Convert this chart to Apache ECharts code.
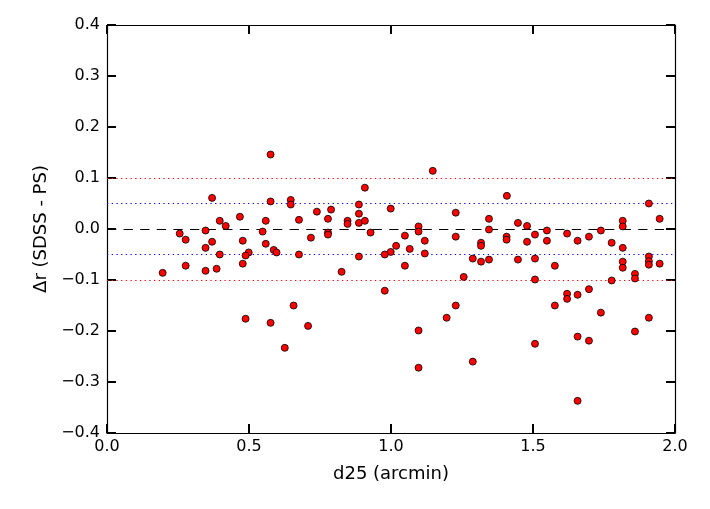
<!DOCTYPE html>
<html>
<head>
<meta charset="utf-8">
<script src="https://cdn.jsdelivr.net/npm/echarts@6/dist/echarts.min.js"></script>
<style>
  html, body { margin: 0; padding: 0; background: #fff; }
  .chart { width: 710px; height: 509px; }
</style>
</head>
<body>
<div class="chart"></div>
<script>
// data
var d25 = [
  0.576, 0.370, 0.576, 0.647, 0.647, 0.397, 0.468, 0.559, 0.676, 0.418, 0.347, 0.548, 0.256, 0.277, 0.370, 0.478, 0.559,
  0.347, 0.587, 0.597, 0.499, 0.488, 0.397, 0.676, 0.478, 0.277, 0.386, 0.347, 0.196, 0.657, 0.488, 0.576, 0.626,
  1.147, 0.908, 0.887, 0.739, 0.789, 0.778, 0.847, 0.847, 0.887, 0.887, 0.908, 0.999, 1.228, 1.345, 1.097, 1.097,
  1.345, 0.928, 0.718, 0.778, 0.778, 1.049, 1.228, 1.119, 1.018, 1.317, 1.317, 1.066, 0.999, 0.978, 0.887, 1.119,
  1.288, 1.317, 1.345, 1.049, 0.826, 1.256, 0.978, 1.228, 0.708, 1.196, 1.097, 1.288, 1.097,
  1.408, 1.908, 1.447, 1.479, 1.946, 1.816, 1.816, 1.407, 1.407, 1.507, 1.549, 1.479, 1.549, 1.620, 1.657, 1.697,
  1.739, 1.777, 1.816, 1.447, 1.507, 1.577, 1.816, 1.816, 1.908, 1.908, 1.908, 1.946, 1.859, 1.859, 1.507, 1.777,
  1.620, 1.620, 1.657, 1.697, 1.577, 1.739, 1.908, 1.859, 1.657, 1.697, 1.507, 1.657
];
var deltaR = [
  0.146, 0.061, 0.054, 0.057, 0.048, 0.016, 0.024, 0.016, 0.018, 0.006, -0.003, -0.005, -0.009, -0.021, -0.025, -0.023, -0.029,
  -0.037, -0.041, -0.046, -0.046, -0.052, -0.050, -0.050, -0.068, -0.072, -0.078, -0.082, -0.086, -0.150, -0.176, -0.184, -0.233,
  0.114, 0.081, 0.048, 0.034, 0.038, 0.020, 0.016, 0.010, 0.030, 0.012, 0.016, 0.040, 0.032, 0.020, 0.005, -0.005,
  -0.001, -0.007, -0.017, -0.007, -0.011, -0.013, -0.015, -0.023, -0.033, -0.027, -0.033, -0.039, -0.045, -0.050, -0.054, -0.048,
  -0.058, -0.064, -0.060, -0.072, -0.084, -0.094, -0.121, -0.150, -0.190, -0.174, -0.199, -0.260, -0.272,
  0.065, 0.050, 0.012, 0.006, 0.020, 0.016, 0.005, -0.015, -0.021, -0.011, -0.003, -0.025, -0.023, -0.009, -0.023, -0.015,
  -0.003, -0.027, -0.037, -0.060, -0.058, -0.072, -0.064, -0.076, -0.054, -0.063, -0.070, -0.068, -0.088, -0.097, -0.099, -0.101,
  -0.127, -0.137, -0.129, -0.118, -0.150, -0.164, -0.174, -0.201, -0.211, -0.219, -0.225, -0.337
];
var xTicks = [0.0, 0.5, 1.0, 1.5, 2.0];
var yTicks = [-0.4, -0.3, -0.2, -0.1, 0.0, 0.1, 0.2, 0.3, 0.4];
var redLines = [0.1, -0.1];
var blueLines = [0.05, -0.05];
var zeroLine = [0];

(function () {
  var myChart = echarts.init(document.querySelector(".chart"), null, { renderer: 'canvas' });

  var font = "DejaVu Sans";
  // matplotlib style tick text: one decimal, real minus sign
  function fmt(v) {
    return Number(v).toFixed(1).replace('-', '\u2212');
  }
  function hline(vals, color, type) {
    return vals.map(function (v) {
      return { yAxis: v, lineStyle: { color: color, type: type, width: 1 } };
    });
  }

  var pairs = d25.map(function (x, i) { return [x, deltaR[i]]; });

  // common inside tick style
  var tick = { inside: true, length: 9, lineStyle: { color: '#000', width: 2 } };
  // axis lines stay on the frame, not at zero
  var line = { show: true, onZero: false, lineStyle: { color: '#000', width: 1.2 } };

  var option = {
    animation: false,
    grid: { left: 107, right: 35, top: 25, bottom: 76 },
    xAxis: [{
      type: 'value',
      min: xTicks[0],
      max: xTicks[xTicks.length - 1],
      interval: 0.5,
      position: 'bottom',
      axisLine: line,
      axisTick: tick,
      splitLine: { show: false },
      axisLabel: { color: '#000', fontSize: 16, fontFamily: font, margin: 6, formatter: fmt },
      name: 'd25 (arcmin)',
      nameLocation: 'middle',
      nameGap: 32,
      nameTextStyle: { color: '#000', fontSize: 18, fontFamily: font }
    }, {
      type: 'value',
      min: xTicks[0],
      max: xTicks[xTicks.length - 1],
      interval: 0.5,
      position: 'top',
      axisLine: line,
      axisTick: tick,
      splitLine: { show: false },
      axisLabel: { show: false }
    }],
    yAxis: [{
      type: 'value',
      min: yTicks[0],
      max: yTicks[yTicks.length - 1],
      interval: 0.1,
      position: 'left',
      axisLine: line,
      axisTick: tick,
      splitLine: { show: false },
      axisLabel: { color: '#000', fontSize: 16, fontFamily: font, margin: 7, formatter: fmt },
      name: '\u0394r (SDSS - PS)',
      nameLocation: 'middle',
      nameRotate: 90,
      nameGap: 47,
      nameTextStyle: { color: '#000', fontSize: 18, fontFamily: font }
    }, {
      type: 'value',
      min: yTicks[0],
      max: yTicks[yTicks.length - 1],
      interval: 0.1,
      position: 'right',
      axisLine: line,
      axisTick: tick,
      splitLine: { show: false },
      axisLabel: { show: false }
    }],
    series: [{
      // reference lines
      type: 'line',
      data: [],
      silent: true,
      markLine: {
        silent: true,
        symbol: ['none', 'none'],
        label: { show: false },
        data: hline(redLines, '#ff0000', [1.3, 3.4])
          .concat(hline(blueLines, '#0000ff', [1.3, 3.4]))
          .concat(hline(zeroLine, '#000000', [9.3, 7.3]))
      }
    }, {
      name: 'points',
      type: 'scatter',
      data: pairs,
      symbolSize: 7,
      z: 5,
      itemStyle: { color: '#ff0000', borderColor: '#000', borderWidth: 0.8, opacity: 1 }
    }]
  };

  myChart.setOption(option);

  window.addEventListener("resize", function () {
    myChart.resize();
  });
})();
</script>
</body>
</html>
